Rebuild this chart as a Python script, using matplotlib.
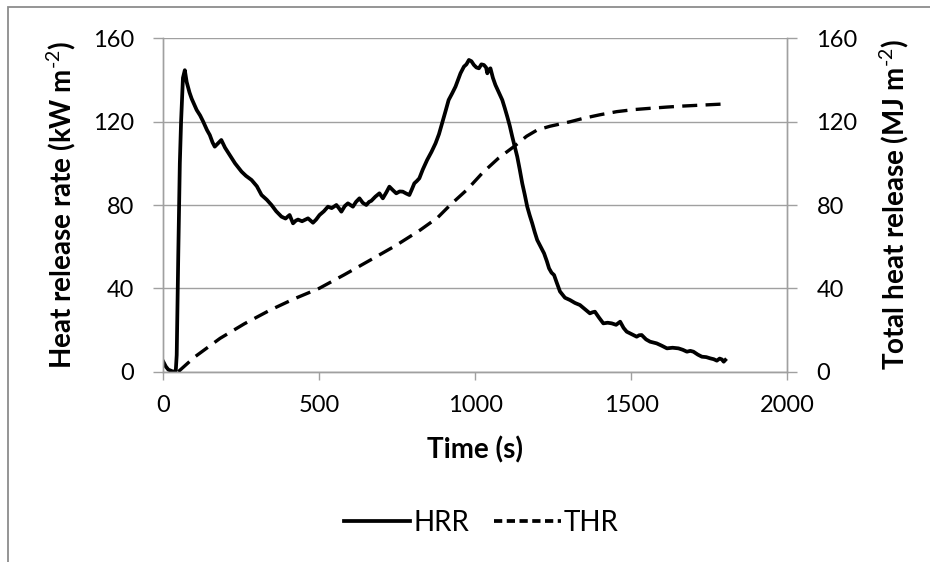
import matplotlib
matplotlib.use('Agg')
import matplotlib.pyplot as plt
from matplotlib.patches import Rectangle
from matplotlib.lines import Line2D

plt.rcParams['font.family'] = ['Lato', 'DejaVu Sans']
plt.rcParams['mathtext.fontset'] = 'custom'
plt.rcParams['mathtext.rm'] = 'Lato'
plt.rcParams['mathtext.bf'] = 'Lato:bold'

# heat release rate (kW m-2)
hrr_t = [0, 8, 16, 32, 40, 43, 48, 53, 57, 63, 69, 75, 84, 91, 100, 107, 118, 128, 140, 149,
         158, 165, 175, 186, 198, 213, 230, 251, 265, 283, 300, 315, 332, 347, 362, 379, 392,
         405, 416, 425, 432, 445, 464, 480, 490, 501, 515, 528, 540, 555, 563, 571, 582, 592,
         600, 608, 618, 629, 640, 651, 660, 667, 680, 693, 704, 715, 725, 737, 747, 758, 768,
         779, 789, 797, 805, 813, 821, 832, 846, 860, 873, 884, 894, 905, 915, 926, 937, 945,
         953, 964, 972, 980, 988, 996, 1004, 1012, 1020, 1028, 1035, 1039, 1044, 1049, 1057,
         1065, 1076, 1087, 1095, 1103, 1111, 1119, 1127, 1135, 1143, 1151, 1159, 1167, 1175,
         1183, 1191, 1199, 1210, 1221, 1230, 1237, 1245, 1253, 1261, 1272, 1288, 1304, 1320,
         1336, 1352, 1368, 1376, 1384, 1397, 1411, 1425, 1438, 1452, 1465, 1476, 1486, 1502,
         1518, 1526, 1534, 1548, 1561, 1572, 1582, 1598, 1615, 1633, 1652, 1666, 1679, 1690,
         1700, 1714, 1727, 1741, 1754, 1765, 1775, 1784, 1791, 1797, 1802]
hrr = [4.8, 2.5, 1.0, 0.0, 0.5, 8, 56, 100, 120, 141, 144.7, 139, 134, 131, 128, 125.6, 123, 120,
       116, 113.6, 110, 108, 109.5, 111.2, 107.5, 104, 100, 96, 94, 92, 89, 84.8, 82.5, 80, 77,
       74.4, 73.5, 75.2, 71.2, 72.5, 73, 72.2, 73.6, 71.5, 73, 75.2, 77, 79.2, 78.5, 80, 78.5,
       76.8, 79.5, 80.8, 80, 79.2, 81.5, 83.2, 81, 80, 81.5, 82, 84, 85.6, 83.2, 86, 88.8,
       87, 85.6, 86.5, 86.4, 85.5, 84.8, 87.5, 90.4, 91.5, 92.8, 97, 101.6, 105.5, 109.6, 114,
       119.2, 125, 130.4, 133.5, 136.8, 140, 143.2, 146.4, 147.5, 149.6, 149, 147.2, 146,
       145.6, 147.5, 147.2, 146, 143.2, 145, 145.6, 141, 137.6, 134, 130.4, 126.5, 122.4, 118,
       112.8, 108, 103.2, 97, 90.4, 85, 79.2, 75, 71.2, 67, 63.2, 60, 56.8, 53, 49.6, 47.5,
       46.4, 43, 38.5, 35.5, 34.4, 33, 32, 30, 28, 28.5, 28.8, 26, 23.2, 23.5, 23.2, 22.5,
       24, 21, 19.2, 18, 16.8, 17.5, 17.6, 15.5, 14.4, 14, 13.6, 12.5, 11.2, 11.5, 11.2, 10.5,
       9.6, 10, 9.6, 8.2, 7.2, 7.0, 6.4, 6.0, 5.3, 6.3, 5.9, 4.8, 5.6]

# total heat release (MJ m-2)
thr_t = [48, 100, 182, 260, 343, 420, 500, 580, 664, 745, 824, 880, 920, 975, 1024, 1075,
         1124, 1165, 1199, 1240, 1306, 1347, 1400, 1454, 1510, 1561, 1615, 1668, 1735, 1802]
thr = [0, 7, 16, 23, 29.6, 35, 40, 46.5, 53.6, 60.5, 68, 74, 80, 87.5, 95.5, 102.5, 108,
       113, 116, 117.8, 120, 121.6, 123.3, 124.8, 125.8, 126.4, 127, 127.5, 128, 128.5]

y_ticks = [0, 40, 80, 120, 160]
x_ticks = [0, 500, 1000, 1500, 2000]

grey = '#a0a0a0'

fig = plt.figure(figsize=(9.3, 5.62), dpi=100)
ax = fig.add_axes([163.3/930, 1-371.7/562, (787-163.3)/930, (371.7-38.3)/562])
ax2 = ax.twinx()

ax.plot(hrr_t, hrr, color='black', lw=2.7, solid_joinstyle='round')
ax2.plot(thr_t, thr, color='black', lw=2.4, linestyle=(0, (4.5, 2.5)))

for a in (ax, ax2):
    a.set_xlim(0, 2000)
    a.set_ylim(0, 160)
    a.set_yticks(y_ticks)
    for s in a.spines.values():
        s.set_color(grey)
        s.set_linewidth(1)
    a.spines['top'].set_visible(False)

ax.set_xticks(x_ticks)
ax.grid(axis='y', color=grey, lw=1)
ax.set_axisbelow(True)
ax.tick_params(axis='y', length=7.2, width=1, color=grey, pad=14, labelsize=17)
ax.tick_params(axis='x', length=5.8, width=1, color=grey, pad=11, labelsize=17)
ax2.tick_params(axis='y', length=7.2, width=1, color=grey, pad=14, labelsize=17)

ax.set_xlabel('Time (s)', fontsize=20, fontweight='bold')
ax.xaxis.set_label_coords(0.5, -0.193)
ax.set_ylabel('Heat release rate (kW m$^{\\text{-2}}$)', fontsize=20, fontweight='bold')
ax.yaxis.set_label_coords(-0.136, 0.5)
ax2.set_ylabel('Total heat release (MJ m$^{\\text{-2}}$)', fontsize=20, fontweight='bold',
               rotation=90)
ax2.yaxis.set_label_coords(1.145, 0.5)

# legend keys drawn like the Excel ones (short dashes)
h1 = Line2D([], [], color='black', lw=2.7)
h2 = Line2D([], [], color='black', lw=2.7, linestyle=(0, (2.2, 1.2)))
fig.legend(handles=[h1, h2], labels=['HRR', 'THR'], loc='center',
           bbox_to_anchor=(481/930, 1-523/562), ncol=2, frameon=False, fontsize=20,
           handlelength=2.4, handletextpad=0.1, columnspacing=0.9)

fig.patches.append(Rectangle((8/930, -0.05), 1.1, 1-7/562+0.05, transform=fig.transFigure,
                             fill=False, edgecolor='#8c8c8c', lw=1.3, clip_on=False))

plt.savefig('out.png', dpi=100)
